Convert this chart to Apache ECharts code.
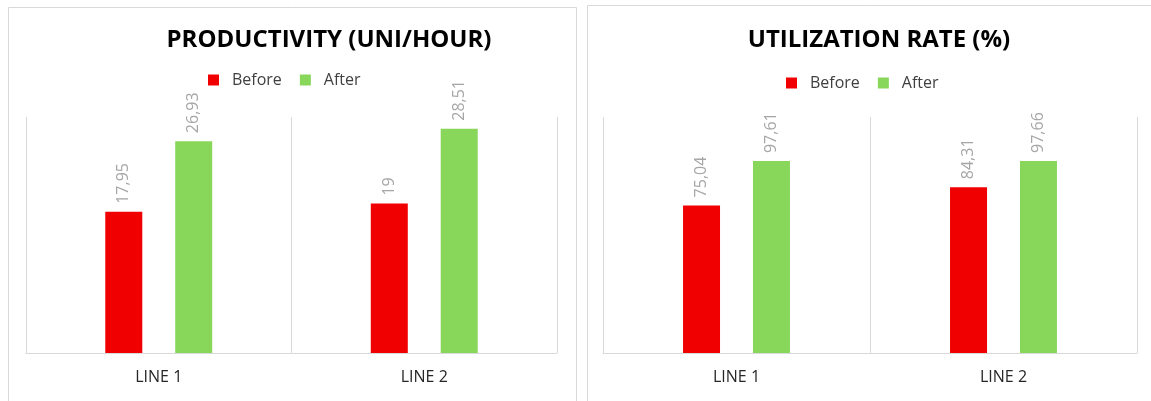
<!DOCTYPE html>
<html>
<head>
<meta charset="utf-8">
<script src="https://cdn.jsdelivr.net/npm/echarts@6/dist/echarts.min.js"></script>
<style>
html,body{margin:0;padding:0;background:#fff;}
#c{width:1151px;height:401px;}
</style>
</head>
<body>
<div id="c"></div>
<script>
var categories = ['LINE 1', 'LINE 2'];
var seriesNames = ['Before', 'After'];
var productivityBefore = [17.95, 19];
var productivityAfter = [26.93, 28.51];
var utilizationBefore = [75.04, 84.31];
var utilizationAfter = [97.61, 97.66];
var titles = ['PRODUCTIVITY (UNI/HOUR)', 'UTILIZATION RATE (%)'];
var yMax = [30, 120];

var FONT = '"Open Sans", "DejaVu Sans", sans-serif';
var RED = '#F00000';
var GREEN = '#88D65A';
var GRID_LINE = '#D9D9D9';

function fmt(p) { return String(p.value).replace('.', ','); }

function barSeries(name, data, idx, color) {
  return {
    name: name, type: 'bar', data: data,
    xAxisIndex: idx, yAxisIndex: idx,
    barWidth: 37, barGap: '89%',
    itemStyle: { color: color },
    label: {
      show: true, position: 'top', rotate: 90, align: 'left', verticalAlign: 'middle',
      distance: 8, color: '#A6A6A6', fontSize: 16, fontFamily: FONT, formatter: fmt
    }
  };
}

function xAxis(idx) {
  return {
    type: 'category', gridIndex: idx, data: categories,
    axisLine: { lineStyle: { color: GRID_LINE, width: 1 } },
    axisTick: { show: false },
    splitLine: { show: true, lineStyle: { color: GRID_LINE, width: 1 } },
    axisLabel: { color: '#262626', fontSize: 16, fontFamily: FONT, margin: 16 }
  };
}
function yAxis(idx) {
  return {
    type: 'value', gridIndex: idx, min: 0, max: yMax[idx],
    show: false, splitLine: { show: false }
  };
}

var legendText = { fontFamily: FONT, fontSize: 16, color: '#404040', padding: [0, 0, 0, 8] };

var chart = echarts.init(document.getElementById('c'), null, { renderer: 'canvas' });
chart.setOption({
  animation: false,
  backgroundColor: '#fff',
  color: [RED, GREEN],
  graphic: [
    { type: 'rect', shape: { x: 8.5, y: 7.5, width: 568, height: 420 }, style: { fill: 'none', stroke: GRID_LINE, lineWidth: 1 }, z: -10 },
    { type: 'rect', shape: { x: 587.5, y: 5.5, width: 580, height: 420 }, style: { fill: 'none', stroke: GRID_LINE, lineWidth: 1 }, z: -10 }
  ],
  title: [
    { text: titles[0], left: 324, top: 23, textAlign: 'center',
      textStyle: { fontFamily: FONT, fontWeight: 'bold', fontSize: 24, color: '#000' } },
    { text: titles[1], left: 874, top: 23, textAlign: 'center',
      textStyle: { fontFamily: FONT, fontWeight: 'bold', fontSize: 24, color: '#000' } }
  ],
  legend: [
    { data: seriesNames, left: 203, top: 67, itemWidth: 11, itemHeight: 11, itemGap: 18,
      icon: 'rect', textStyle: legendText },
    { data: seriesNames, left: 781, top: 70, itemWidth: 11, itemHeight: 11, itemGap: 18,
      icon: 'rect', textStyle: legendText }
  ],
  grid: [
    { left: 26, right: 594, top: 117, bottom: 48 },
    { left: 603, right: 14, top: 117, bottom: 48 }
  ],
  xAxis: [xAxis(0), xAxis(1)],
  yAxis: [yAxis(0), yAxis(1)],
  series: [
    barSeries(seriesNames[0], productivityBefore, 0, RED),
    barSeries(seriesNames[1], productivityAfter, 0, GREEN),
    barSeries(seriesNames[0], utilizationBefore, 1, RED),
    barSeries(seriesNames[1], utilizationAfter, 1, GREEN)
  ]
});
</script>
</body>
</html>
